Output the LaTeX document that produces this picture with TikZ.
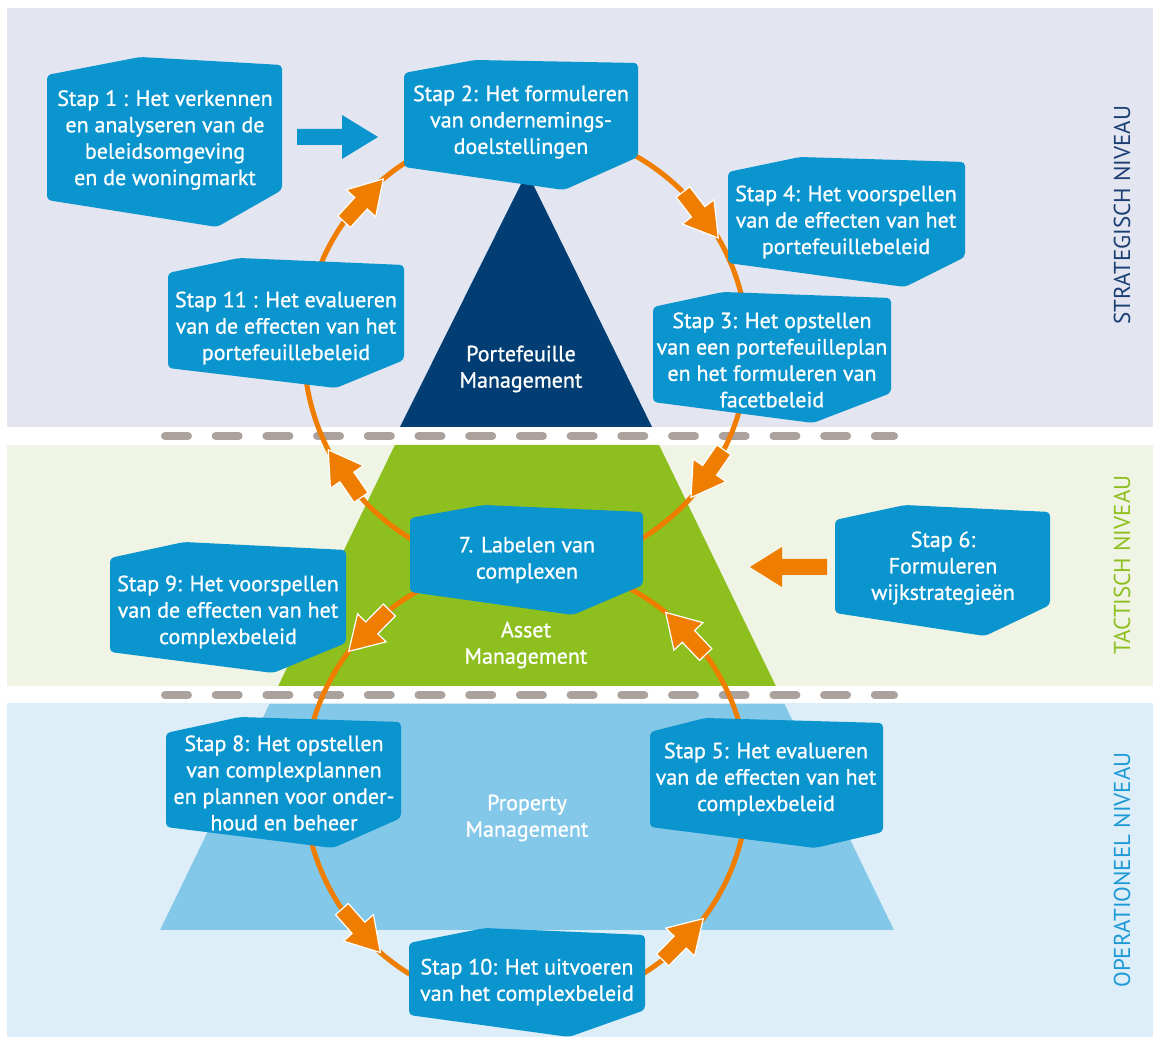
\documentclass[tikz,border=0pt]{standalone}
\usepackage{fontspec}
\setmainfont{PT Sans}
\newfontfamily\boxfont{PT Sans}[FakeBold=0.9]
\definecolor{bandS}{HTML}{E3E5F0}
\definecolor{bandT}{HTML}{F0F4E5}
\definecolor{bandO}{HTML}{DDEEF9}
\definecolor{navy}{HTML}{023E74}
\definecolor{leaf}{HTML}{8DBF1F}
\definecolor{sky}{HTML}{83C8E9}
\definecolor{boxblue}{HTML}{0A95CF}
\definecolor{orng}{HTML}{EE7D00}
\definecolor{dashgray}{HTML}{ABA29D}
\definecolor{labS}{HTML}{1C3F73}
\definecolor{labT}{HTML}{8DBF1F}
\definecolor{labO}{HTML}{1D9AD6}
\begin{document}
\begin{tikzpicture}[x=0.5pt,y=-0.5pt,
  stapbox/.style={fill=boxblue, rounded corners=2pt},
  staptext/.style={text=white, align=center, font=\boxfont\fontsize{11}{13.2}\selectfont, inner sep=0pt},
  pyrtext/.style={text=white, align=center, font=\boxfont\fontsize{11}{13.2}\selectfont, inner sep=0pt},
  ring/.style={draw=orng, line width=2.5pt},
  sepline/.style={draw=dashgray, line width=4pt, line cap=round, dash pattern=on 11.5pt off 13.85pt},
  niveau/.style={rotate=90, font=\fontsize{11.5}{13}\selectfont, inner sep=0pt},
  flowarrow/.pic={\fill[orng, draw=white, line width=0.6pt] (0,0) -- (-33,20) -- (-33,8.5) -- (-58,8.5) -- (-58,-8.5) -- (-33,-8.5) -- (-33,-20) -- cycle;}
]
\useasboundingbox (0,0) rectangle (1153,1037);
% bands
\fill[bandS] (7,8) rectangle (1153,427);
\fill[bandT] (7,445) rectangle (1153,686);
\fill[bandO] (7,703) rectangle (1153,1037);
% pyramid
\fill[navy] (527,172) -- (652,427) -- (400,427) -- cycle;
\fill[leaf] (394.9,445) -- (659.1,445) -- (775.8,686) -- (278.2,686) -- cycle;
\fill[sky] (269.5,704) -- (784.5,704) -- (893.9,930) -- (160.1,930) -- cycle;
% separators
\draw[sepline] (165,436) -- (894,436);
\draw[sepline] (165,695) -- (894,695);
% cycles
\coordinate (U) at (526,349);
\coordinate (D) at (526,785);
\draw[ring] (U) circle[radius=111pt];
\draw[ring] (D) circle[radius=111pt];
% arrows on upper cycle (clockwise)
\pic[rotate=47.5] at ({526+222*cos(230)},{349+222*sin(230)}) {flowarrow};
\pic[rotate=-52.5] at ({526+222*cos(330)},{349+222*sin(330)}) {flowarrow};
\pic[rotate=-124.5] at ({526+222*cos(42)},{349+222*sin(42)}) {flowarrow};
\pic[rotate=124.5] at ({526+222*cos(153)},{349+222*sin(153)}) {flowarrow};
% arrows on lower cycle (counter-clockwise)
\pic[rotate=-134.5] at ({526+222*cos(217)},{785+222*sin(217)}) {flowarrow};
\pic[rotate=133.5] at ({526+222*cos(309)},{785+222*sin(309)}) {flowarrow};
\pic[rotate=-48.5] at ({526+222*cos(131)},{785+222*sin(131)}) {flowarrow};
\pic[rotate=45.5] at ({526+222*cos(37)},{785+222*sin(37)}) {flowarrow};
% pyramid labels
\node[pyrtext] (pm) at (521,369) {Portefeuille\\Management};
\node[pyrtext] (am) at (526,645) {Asset\\Management};
\node[pyrtext] (prm) at (527,818) {Property\\Management};
% boxes
\fill[stapbox] (47,75) -- (140,57) -- (282,65) -- (282,190) -- (217,227) -- (47,200) -- cycle;
\node[staptext] (s1) at (165,140) {Stap 1 : Het verkennen\\en analyseren van de\\beleidsomgeving\\en de woningmarkt};
\fill[stapbox] (404,73) -- (475,60) -- (638,63) -- (638,157) -- (564,190) -- (404,167) -- cycle;
\node[staptext] (s2) at (521,122) {Stap 2: Het formuleren\\van ondernemings-\\doelstellingen};
\fill[stapbox] (728,172) -- (800,157) -- (965,162) -- (965,257) -- (905,287) -- (728,263) -- cycle;
\node[staptext] (s4) at (846,222) {Stap 4: Het voorspellen\\van de effecten van het\\portefeuillebeleid};
\fill[stapbox] (653,307) -- (723,292) -- (891,298) -- (891,393) -- (813,423) -- (653,402) -- cycle;
\node[staptext] (s3) at (772,360) {Stap 3: Het opstellen\\van een portefeuilleplan\\en het formuleren van\\facetbeleid};
\fill[stapbox] (168,273) -- (239,258) -- (404,265) -- (404,360) -- (336,388) -- (168,368) -- cycle;
\node[staptext] (s11) at (286,328) {Stap 11 : Het evalueren\\van de effecten van het\\portefeuillebeleid};
\fill[stapbox] (410,518) -- (484,505) -- (643,512) -- (643,585) -- (573,615) -- (410,592) -- cycle;
\node[staptext] (s7) at (527,560) {7. Labelen van\\complexen};
\fill[stapbox] (110,558) -- (184,542) -- (346,550) -- (346,643) -- (273,673) -- (110,652) -- cycle;
\node[staptext] (s9) at (228,612) {Stap 9: Het voorspellen\\van de effecten van het\\complexbeleid};
\fill[stapbox] (835,520) -- (905,505) -- (1050,512) -- (1050,605) -- (985,636) -- (835,613) -- cycle;
\node[staptext] (s6) at (943,568) {Stap 6:\\Formuleren\\wijkstrategieën};
\fill[stapbox] (166,733) -- (240,717) -- (401,722) -- (401,818) -- (333,848) -- (166,827) -- cycle;
\node[staptext] (s8) at (284,783) {Stap 8: Het opstellen\\van complexplannen\\en plannen voor onder-\\houd en beheer};
\fill[stapbox] (650,732) -- (705,718) -- (883,723) -- (883,832) -- (815,848) -- (650,827) -- cycle;
\node[staptext] (s5) at (766,779) {Stap 5: Het evalueren\\van de effecten van het\\complexbeleid};
\fill[stapbox] (409,943) -- (485,928) -- (645,935) -- (645,1010) -- (569,1037) -- (409,1015) -- cycle;
\node[staptext] (s10) at (527,982) {Stap 10: Het uitvoeren\\van het complexbeleid};
% input arrows
\fill[boxblue] (297,129) -- (342,129) -- (342,115) -- (378,137) -- (342,159) -- (342,145) -- (297,145) -- cycle;
\fill[orng] (827,559) -- (782,559) -- (782,547) -- (750,567) -- (782,587) -- (782,575) -- (827,575) -- cycle;
% level labels
\node[niveau, text=labS] (ns) at (1122,215) {STRATEGISCH NIVEAU};
\node[niveau, text=labT] (nt) at (1122,565) {TACTISCH NIVEAU};
\node[niveau, text=labO] (no) at (1122,870) {OPERATIONEEL NIVEAU};
\end{tikzpicture}
\end{document}
